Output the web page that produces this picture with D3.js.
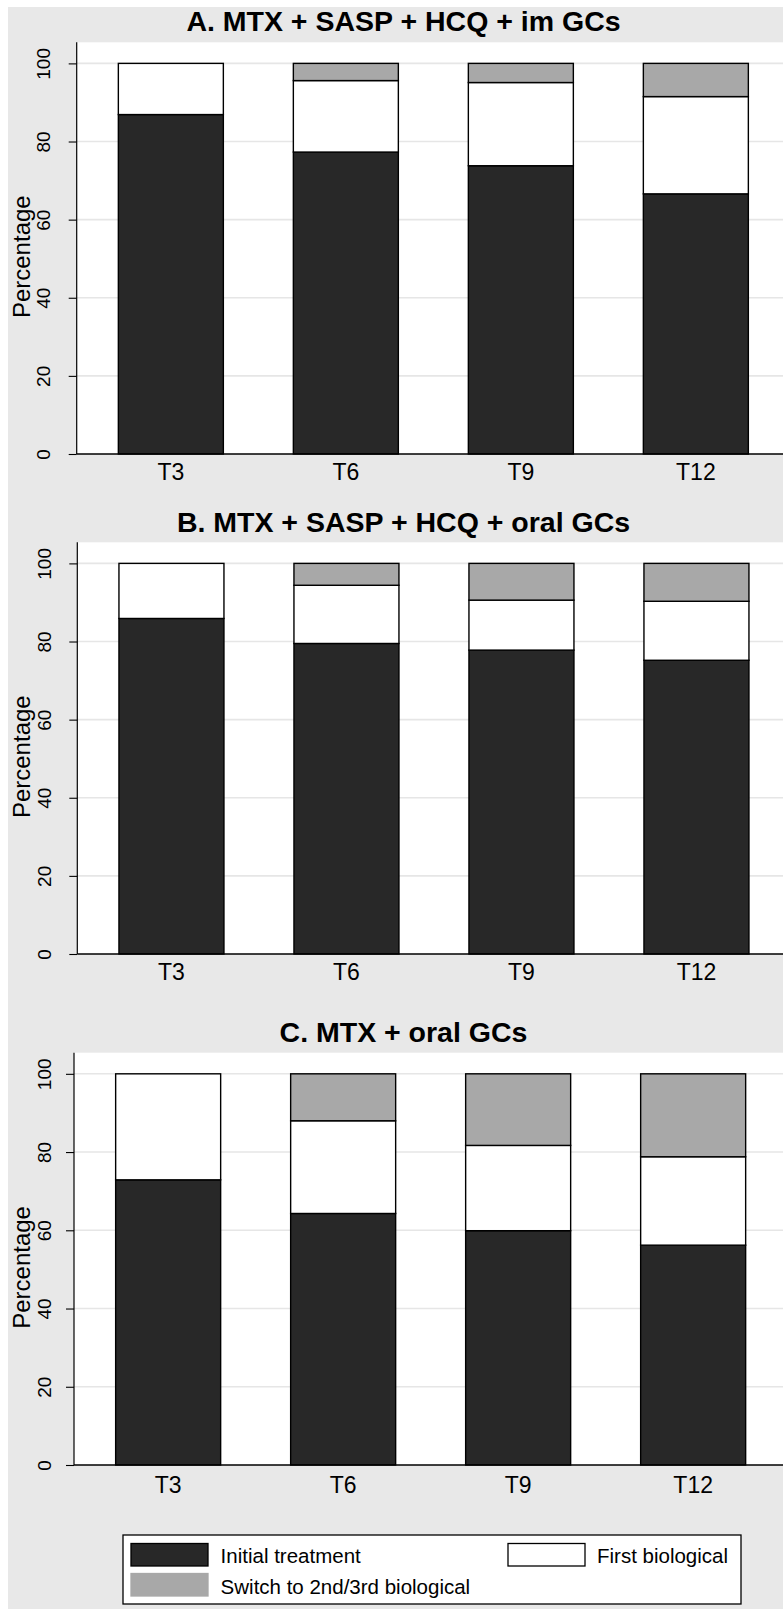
<!DOCTYPE html>
<html>
<head>
<meta charset="utf-8">
<script src="https://cdn.jsdelivr.net/npm/d3@7"></script>
<style>
  html, body { margin: 0; padding: 0; background: #ffffff; }
  svg { display: block; font-family: "Liberation Sans", Arial, Helvetica, sans-serif; }
</style>
</head>
<body>
<script>
// ---------------- DATA ----------------
const categories = ["T3", "T6", "T9", "T12"];
const panelTitles = [
  "A. MTX + SASP + HCQ + im GCs",
  "B. MTX + SASP + HCQ + oral GCs",
  "C. MTX + oral GCs"
];
const seriesNames = ["Initial treatment", "First biological", "Switch to 2nd/3rd biological"];

// Panel A
const initialA = [86.9, 77.3, 73.8, 66.6];
const firstBioA = [13.1, 18.3, 21.3, 24.9];
const switchA  = [0.0, 4.4, 4.9, 8.5];
// Panel B
const initialB = [85.9, 79.5, 77.8, 75.2];
const firstBioB = [14.1, 14.9, 12.8, 15.1];
const switchB  = [0.0, 5.6, 9.4, 9.7];
// Panel C
const initialC = [72.9, 64.3, 59.9, 56.2];
const firstBioC = [27.1, 23.7, 21.8, 22.6];
const switchC  = [0.0, 12.0, 18.3, 21.2];

const yTicks = [0, 20, 40, 60, 80, 100];

// ---------------- STYLE ----------------
const colors = {
  "Initial treatment": "#282828",
  "First biological": "#ffffff",
  "Switch to 2nd/3rd biological": "#a8a8a8"
};
const bgGray = "#e8e8e8";
const gridColor = "#e6e6e6";

const W = 783, H = 1609;
const svg = d3.select("body").append("svg").attr("width", W).attr("height", H);

// outer background
svg.append("rect").attr("x", 8).attr("y", 7).attr("width", W - 8).attr("height", H - 7).attr("fill", bgGray);

const panels = [
  { title: panelTitles[0], init: initialA, first: firstBioA, sw: switchA, axisX: 76.7, y0: 454, top: 42.3, titleY: 31, labelOff: 25.5 },
  { title: panelTitles[1], init: initialB, first: firstBioB, sw: switchB, axisX: 77.3, y0: 954, top: 542.3, titleY: 531.5, labelOff: 25.5 },
  { title: panelTitles[2], init: initialC, first: firstBioC, sw: switchC, axisX: 74, y0: 1465, top: 1052.7, titleY: 1041.5, labelOff: 27.5 }
];

panels.forEach(p => {
  const g = svg.append("g");
  const x = d3.scaleBand().domain(categories)
    .range([p.axisX, p.axisX + 713.3])
    .paddingInner(0.4).paddingOuter(0.238);
  const y = d3.scaleLinear().domain([0, 105.4]).range([p.y0, p.top]);

  // title
  g.append("text").attr("x", 403.5).attr("y", p.titleY)
    .attr("text-anchor", "middle").attr("font-weight", "bold")
    .attr("font-size", 28.5).attr("fill", "#000").text(p.title);

  // plot region
  g.append("rect").attr("x", p.axisX).attr("y", p.top)
    .attr("width", W - p.axisX).attr("height", p.y0 - p.top).attr("fill", "#fff");

  // grid
  g.selectAll(".grid").data(yTicks.filter(d => d > 0)).join("line")
    .attr("x1", p.axisX).attr("x2", W)
    .attr("y1", d => y(d)).attr("y2", d => y(d))
    .attr("stroke", gridColor).attr("stroke-width", 1.6);

  // stacked data
  const rows = categories.map((c, i) => ({
    cat: c,
    "Initial treatment": p.init[i],
    "First biological": p.first[i],
    "Switch to 2nd/3rd biological": p.sw[i]
  }));
  const stacked = d3.stack().keys(seriesNames)(rows);

  stacked.forEach(layer => {
    g.append("g").selectAll("rect")
      .data(layer.filter(d => d[1] - d[0] > 0))
      .join("rect")
      .attr("x", d => x(d.data.cat))
      .attr("width", x.bandwidth())
      .attr("y", d => y(d[1]))
      .attr("height", d => y(d[0]) - y(d[1]))
      .attr("fill", colors[layer.key])
      .attr("stroke", "#000")
      .attr("stroke-width", 1.4);
  });

  // y axis
  const yAxis = d3.axisLeft(y).tickValues(yTicks).tickSize(8).tickPadding(0).tickFormat(d3.format("d"));
  const ya = g.append("g").attr("transform", `translate(${p.axisX},0)`).call(yAxis);
  ya.select(".domain").attr("d", `M0,${p.y0}V${p.top}`).attr("stroke", "#000").attr("stroke-width", 1.2);
  ya.selectAll(".tick line").attr("stroke", "#000").attr("stroke-width", 1.1);
  ya.selectAll(".tick text")
    .attr("x", null).attr("dy", null)
    .attr("text-anchor", "middle")
    .attr("font-size", 19)
    .attr("font-family", "Liberation Sans, Arial, sans-serif")
    .attr("fill", "#000")
    .attr("transform", `translate(${50.5 - p.axisX},0) rotate(-90)`);

  // y title
  g.append("text")
    .attr("transform", `translate(30,${y(50) - 2}) rotate(-90)`)
    .attr("text-anchor", "middle").attr("font-size", 24).attr("fill", "#000")
    .text("Percentage");

  // x axis
  const xAxis = d3.axisBottom(x).tickSize(0).tickPadding(0);
  const xa = g.append("g").attr("transform", `translate(0,${p.y0})`).call(xAxis);
  xa.select(".domain").attr("d", `M${p.axisX},0H${W}`).attr("stroke", "#000").attr("stroke-width", 1.4);
  xa.selectAll(".tick text")
    .attr("y", p.labelOff).attr("dy", null)
    .attr("font-size", 23)
    .attr("font-family", "Liberation Sans, Arial, sans-serif")
    .attr("fill", "#000");
});

// ---------------- LEGEND ----------------
const lg = svg.append("g");
lg.append("rect").attr("x", 123).attr("y", 1535).attr("width", 618).attr("height", 69)
  .attr("fill", "#fff").attr("stroke", "#000").attr("stroke-width", 1.3);

const legendItems = [
  { name: seriesNames[0], sx: 131, sy: 1543.5, tx: 220.6, ty: 1563, stroke: "#000" },
  { name: seriesNames[1], sx: 508, sy: 1543.5, tx: 597, ty: 1563, stroke: "#000" },
  { name: seriesNames[2], sx: 131, sy: 1573.5, tx: 220.6, ty: 1593.5, stroke: "#a8a8a8" }
];
legendItems.forEach(it => {
  lg.append("rect").attr("x", it.sx).attr("y", it.sy).attr("width", 77).attr("height", 22.5)
    .attr("fill", colors[it.name]).attr("stroke", it.stroke).attr("stroke-width", 1.3);
  lg.append("text").attr("x", it.tx).attr("y", it.ty).attr("font-size", 20.5).attr("fill", "#000").text(it.name);
});
</script>
</body>
</html>
